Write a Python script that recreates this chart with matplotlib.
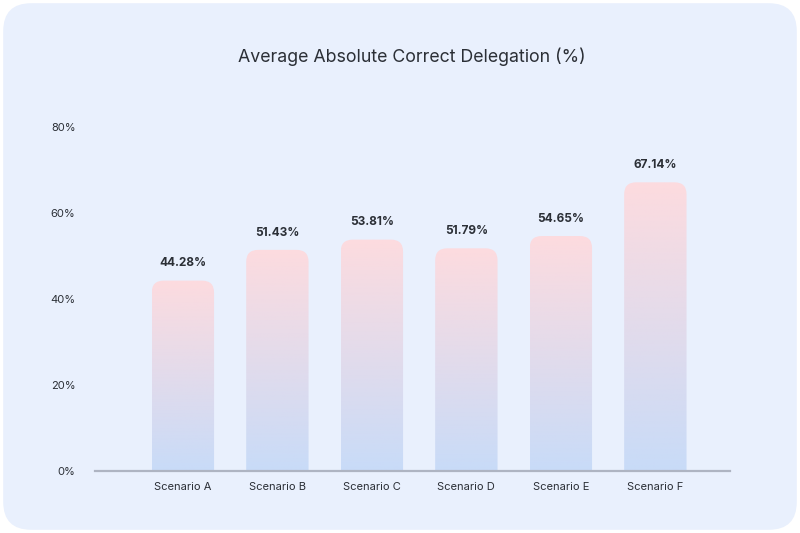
import numpy as np
import matplotlib.pyplot as plt
from matplotlib.patches import FancyBboxPatch
from matplotlib.colors import LinearSegmentedColormap

plt.rcParams['font.family'] = ['Inter', 'DejaVu Sans']

scenarios = ['Scenario A', 'Scenario B', 'Scenario C', 'Scenario D', 'Scenario E', 'Scenario F']
values = [44.28, 51.43, 53.81, 51.79, 54.65, 67.14]
yticks = [0, 20, 40, 60, 80]

bg = '#E9F0FD'
grad = LinearSegmentedColormap.from_list('g', ['#C8DBF8', '#FDDBDF'])

fig = plt.figure(figsize=(8, 5.33), dpi=100)
fig.patch.set_facecolor('white')
# rounded card background
card = FancyBboxPatch((0.004, 0.006), 0.992, 0.988, boxstyle='round,pad=0,rounding_size=0.035',
                      transform=fig.transFigure, facecolor=bg, edgecolor='none',
                      mutation_aspect=800 / 533, zorder=-1)
fig.patches.append(card)

ax = fig.add_axes([0.11875, 0.1163, 0.79375, 0.6454])
ax.set_facecolor('none')
ax.set_xlim(-0.93, 5.79)
ax.set_ylim(0, 80)

bw = 0.66
# px per unit, for round corners
px_x = 0.79375 * 800 / (5.79 + 0.93)
px_y = 0.6454 * 533 / 80
aspect = px_x / px_y
r = 12 / px_x

x = np.arange(len(scenarios))
for xi, v in zip(x, values):
    patch = FancyBboxPatch((xi - bw / 2, -10), bw, v + 10,
                           boxstyle=f'round,pad=0,rounding_size={r}',
                           mutation_aspect=aspect, facecolor='none', edgecolor='none')
    ax.add_patch(patch)
    img = ax.imshow(np.linspace(0, 1, 256).reshape(-1, 1), cmap=grad, origin='lower',
                    extent=(xi - bw / 2, xi + bw / 2, 0, v), aspect='auto', zorder=2)
    img.set_clip_path(patch)
    ax.text(xi, v + 2.6, f'{v:.2f}%', ha='center', va='bottom', fontsize=8.5,
            fontweight='bold', color='#2B2F36')

ax.set_xticks(x)
ax.set_xticklabels(scenarios, fontsize=8, color='#2B2F36')
ax.set_yticks(yticks)
ax.set_yticklabels([f'{t}%' for t in yticks], fontsize=8, color='#2B2F36')
ax.tick_params(axis='both', length=0)
ax.tick_params(axis='x', pad=8)
ax.tick_params(axis='y', pad=14)

for s in ['top', 'right', 'left']:
    ax.spines[s].set_visible(False)
ax.spines['bottom'].set_color('#AEB4C2')
ax.spines['bottom'].set_linewidth(1.6)
ax.spines['bottom'].set_zorder(3)

fig.text(0.515, 0.893, 'Average Absolute Correct Delegation (%)', ha='center', va='center',
         fontsize=12.8, color='#2B2F36')

fig.savefig('out.png', dpi=100, facecolor='white')
